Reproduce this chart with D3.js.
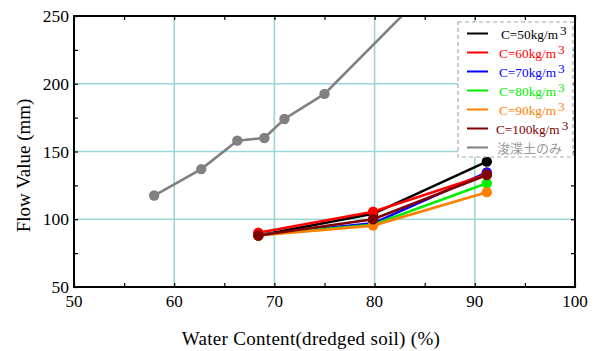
<!DOCTYPE html>
<html>
<head>
<meta charset="utf-8">
<script src="https://cdn.jsdelivr.net/npm/d3@7"></script>
<style>
  html, body { margin: 0; padding: 0; background: #fff; }
  svg { display: block; }
  svg text { font-family: "Liberation Serif", "Times New Roman", Times, "DejaVu Serif", serif; }
  svg text.jp { font-family: "Noto Sans CJK JP", sans-serif; }
</style>
</head>
<body>
<svg id="chart" width="595" height="351"></svg>
<script>
// Water content of dredged soil (%) for the cement-mixed samples
const mixWater = [68.4, 79.85, 91.2];

// Flow values (mm) per cement content
const flowC50  = [88, 104, 142.5];
const flowC60  = [90, 105.5, 133];
const flowC70  = [88.5, 97, 134.5];
const flowC80  = [88.5, 96, 126.5];
const flowC90  = [88, 95.3, 120];
const flowC100 = [88, 100, 132.7];

// Dredged soil only
const soilWater = [58, 62.7, 66.3, 69, 71, 75, 85];
const soilFlow  = [117.5, 137, 158, 160, 174, 192.5, 267];

const seriesNames  = ["C=50kg/m", "C=60kg/m", "C=70kg/m", "C=80kg/m", "C=90kg/m", "C=100kg/m", "浚渫土のみ"];
const seriesColors = ["#000000", "#ff0000", "#0000ff", "#00ee00", "#ff8000", "#800000", "#808080"];

const xTicks = [50, 60, 70, 80, 90, 100];
const yTicks = [50, 100, 150, 200, 250];

const series = [
  { name: seriesNames[0], color: seriesColors[0], x: mixWater, y: flowC50, sup: true },
  { name: seriesNames[1], color: seriesColors[1], x: mixWater, y: flowC60, sup: true },
  { name: seriesNames[2], color: seriesColors[2], x: mixWater, y: flowC70, sup: true },
  { name: seriesNames[3], color: seriesColors[3], x: mixWater, y: flowC80, sup: true },
  { name: seriesNames[4], color: seriesColors[4], x: mixWater, y: flowC90, sup: true },
  { name: seriesNames[5], color: seriesColors[5], x: mixWater, y: flowC100, sup: true },
  { name: seriesNames[6], color: seriesColors[6], x: soilWater, y: soilFlow, sup: false }
];

const svg = d3.select("#chart");
const L = 74, R = 575, T = 16, B = 287;

const x = d3.scaleLinear().domain([50, 100]).range([L, R]);
const y = d3.scaleLinear().domain([50, 250]).range([B, T]);

// clip for the plotted data
svg.append("defs").append("clipPath").attr("id", "plotClip")
  .append("rect").attr("x", L).attr("y", T).attr("width", R - L).attr("height", B - T);

// grid lines
const grid = svg.append("g").attr("stroke", "#9dd6d6").attr("stroke-width", 1.6);
grid.selectAll("line.gx").data(xTicks.slice(1, -1)).join("line")
  .attr("x1", d => x(d)).attr("x2", d => x(d)).attr("y1", T).attr("y2", B);
grid.selectAll("line.gy").data(yTicks.slice(1, -1)).join("line")
  .attr("y1", d => y(d)).attr("y2", d => y(d)).attr("x1", L).attr("x2", R);

// data lines + markers
const plot = svg.append("g").attr("clip-path", "url(#plotClip)");
const line = d3.line().x(d => x(d[0])).y(d => y(d[1]));
const drawOrder = [6, 0, 2, 3, 4, 1, 5];
drawOrder.forEach(i => {
  const s = series[i];
  const pts = s.x.map((v, k) => [v, s.y[k]]);
  plot.append("path").datum(pts).attr("d", line)
    .attr("fill", "none").attr("stroke", s.color).attr("stroke-width", 2.6);
  plot.selectAll(null).data(pts).join("circle")
    .attr("cx", d => x(d[0])).attr("cy", d => y(d[1])).attr("r", 5.2)
    .attr("fill", s.color);
});

// axes with inward ticks on all four sides
const minorX = d3.range(50, 100.1, 5);
const minorY = d3.range(50, 250.1, 25);
const axB = d3.axisBottom(x).tickValues(minorX).tickSize(-4).tickFormat("");
const axT = d3.axisTop(x).tickValues(minorX).tickSize(-4).tickFormat("");
const axL = d3.axisLeft(y).tickValues(minorY).tickSize(-4).tickFormat("");
const axR = d3.axisRight(y).tickValues(minorY).tickSize(-4).tickFormat("");
[[axB, `translate(0,${B})`], [axT, `translate(0,${T})`], [axL, `translate(${L},0)`], [axR, `translate(${R},0)`]]
  .forEach(([ax, tr]) => {
    const g = svg.append("g").attr("transform", tr).call(ax);
    g.select(".domain").remove();
    g.selectAll("line").attr("stroke", "#000").attr("stroke-width", 1.2);
  });

// frame
svg.append("rect").attr("x", L).attr("y", T).attr("width", R - L).attr("height", B - T)
  .attr("fill", "none").attr("stroke", "#000").attr("stroke-width", 2);

// tick labels
svg.append("g").selectAll("text").data(xTicks).join("text")
  .attr("x", d => x(d)).attr("y", B + 20).attr("text-anchor", "middle")
  .attr("font-size", 17).text(d => d);
svg.append("g").selectAll("text").data(yTicks).join("text")
  .attr("x", L - 5).attr("y", d => y(d) + 6).attr("text-anchor", "end")
  .attr("font-size", 17.5).text(d => d);

// axis titles
svg.append("text").attr("x", 311).attr("y", 345).attr("text-anchor", "middle")
  .attr("font-size", 19).attr("letter-spacing", 0.3).text("Water Content(dredged soil) (%)");
svg.append("text").attr("transform", `translate(30,${(T + B) / 2 + 14}) rotate(-90)`)
  .attr("text-anchor", "middle").attr("font-size", 19).text("Flow Value (mm)");

// legend
const lg = svg.append("g");
lg.append("rect").attr("x", 458).attr("y", 22).attr("width", 115).attr("height", 135)
  .attr("fill", "#fff").attr("stroke", "#aaa").attr("stroke-width", 1.2).attr("stroke-dasharray", "4,3");
series.forEach((s, i) => {
  const yy = 33.5 + i * 19;
  lg.append("line").attr("x1", 467).attr("x2", 488).attr("y1", yy).attr("y2", yy)
    .attr("stroke", s.color).attr("stroke-width", 2);
  const t = lg.append("text").attr("x", s.sup ? (i === 5 ? 496 : (i === 0 ? 501 : 499)) : 497).attr("y", yy + 5)
    .attr("font-size", 13.3).attr("fill", s.color);
  if (s.sup) {
    t.append("tspan").text(s.name);
    t.append("tspan").attr("dy", -4).attr("dx", 2).text("3");
  } else {
    t.attr("class", "jp").attr("font-size", 13).attr("fill", "#999").text(s.name);
  }
});
</script>
</body>
</html>
